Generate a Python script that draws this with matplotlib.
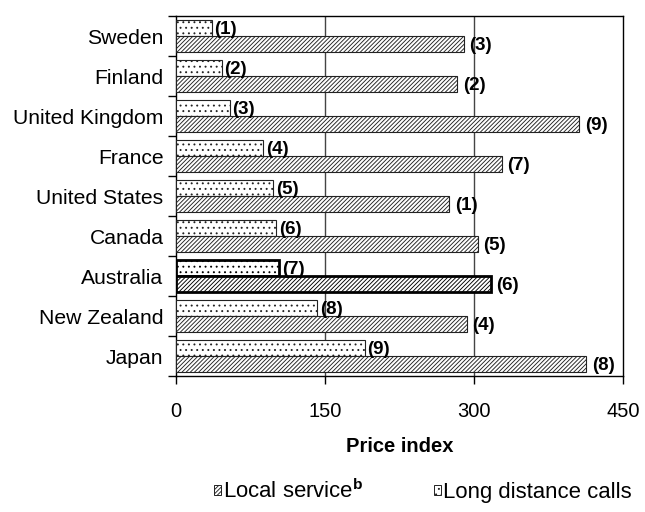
import matplotlib
matplotlib.use("Agg")
import matplotlib.pyplot as plt
from matplotlib.patches import Patch

plt.rcParams["font.family"] = ["Liberation Sans", "DejaVu Sans"]
plt.rcParams["mathtext.fontset"] = "custom"
plt.rcParams["mathtext.rm"] = "Liberation Sans"
plt.rcParams["mathtext.bf"] = "Liberation Sans:bold"
plt.rcParams["hatch.linewidth"] = 0.65

countries = ["Sweden", "Finland", "United Kingdom", "France", "United States",
             "Canada", "Australia", "New Zealand", "Japan"]
long_distance = [36, 46, 54, 88, 98, 101, 104, 142, 190]
local_service = [290, 283, 406, 328, 275, 304, 317, 293, 413]
long_distance_rank = [1, 2, 3, 4, 5, 6, 7, 8, 9]
local_service_rank = [3, 2, 9, 7, 1, 5, 6, 4, 8]
x_ticks = [0, 150, 300, 450]
highlight = "Australia"

DOTS = "..."
STRIPES = "////////"

fig = plt.figure(figsize=(6.45, 5.12), dpi=100)
ax = fig.add_axes([176 / 645, 1 - 376 / 512, (623 - 176) / 645, (376 - 16) / 512])

pos = list(range(len(countries)))
edge_w = [2.0 if c == highlight else 0.8 for c in countries]

ld_bars = ax.barh([p - 0.2 for p in pos], long_distance, height=0.4,
                  color="white", edgecolor="#222222", hatch=DOTS,
                  linewidth=edge_w, zorder=3)
ls_bars = ax.barh([p + 0.2 for p in pos], local_service, height=0.4,
                  color="white", edgecolor="#222222", hatch=STRIPES,
                  linewidth=edge_w, zorder=3)
for i, c in enumerate(countries):
    if c == highlight:
        ld_bars[i].set_edgecolor("black")
        ls_bars[i].set_edgecolor("black")

for p, v, r in zip(pos, long_distance, long_distance_rank):
    ax.annotate(f"({r})", (v, p - 0.2), xytext=(2, -1), textcoords="offset points",
                ha="left", va="center", fontsize=13.5, fontweight="bold")
for p, v, r in zip(pos, local_service, local_service_rank):
    ax.annotate(f"({r})", (v, p + 0.2), xytext=(4, -1), textcoords="offset points",
                ha="left", va="center", fontsize=13.5, fontweight="bold")

ax.set_xlim(0, 450)
ax.set_ylim(len(countries) - 0.5, -0.5)
ax.set_xticks(x_ticks)
ax.set_xticklabels([str(t) for t in x_ticks], fontsize=14.5)
ax.tick_params(axis="x", direction="out", length=6, width=1, pad=13)

ax.set_yticks(pos)
ax.set_yticklabels(countries, fontsize=15.2)
ax.tick_params(axis="y", which="major", length=0, pad=9)
ax.set_yticks([p + 0.5 for p in range(-1, len(countries))], minor=True)
ax.tick_params(axis="y", which="minor", direction="out", length=6, width=1)

for t in x_ticks[1:-1]:
    ax.axvline(t, color="#444444", linewidth=1, zorder=1)

for s in ax.spines.values():
    s.set_linewidth(1)
    s.set_color("black")

ax.set_xlabel("Price index", fontsize=14.5, fontweight="bold", labelpad=11)

handles = [
    Patch(facecolor="white", edgecolor="#222222", hatch=STRIPES, linewidth=0.7,
          label=r"Local service$^{\mathbf{b}}$"),
    Patch(facecolor="white", edgecolor="#222222", hatch=DOTS, linewidth=0.7,
          label="Long distance calls"),
]
fig.legend(handles=handles, loc="center", bbox_to_anchor=(423 / 645, 1 - 491 / 512),
           ncol=2, frameon=False, fontsize=15.9, handlelength=0.3, handleheight=0.3,
           handletextpad=0.12, columnspacing=3.2, borderaxespad=0)

fig.savefig("out.png", dpi=100)
